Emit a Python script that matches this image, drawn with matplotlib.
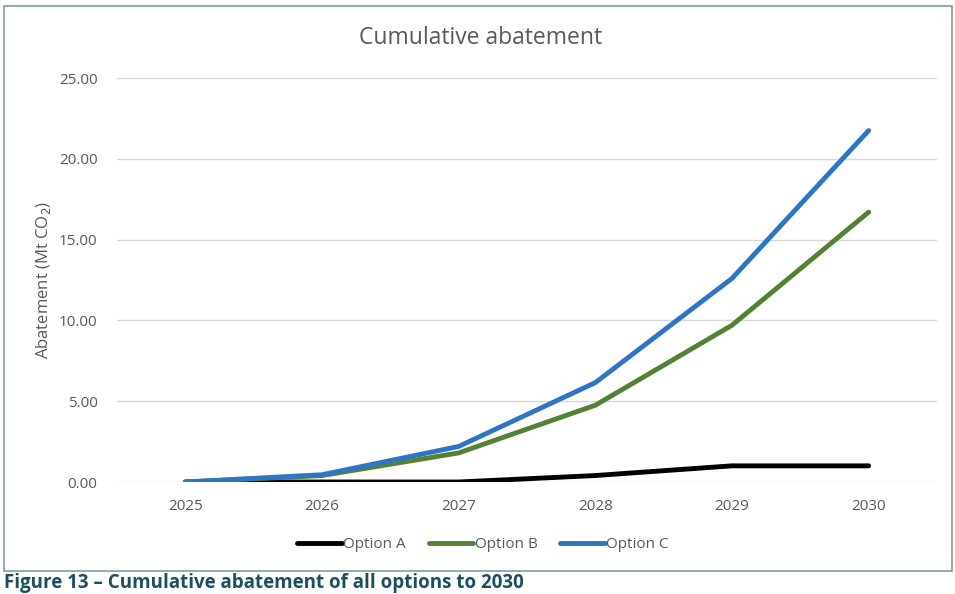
import matplotlib.pyplot as plt
from matplotlib.patches import Rectangle

years = ['2025', '2026', '2027', '2028', '2029', '2030']
option_a = [0.0, 0.0, 0.0, 0.4, 1.0, 1.0]
option_b = [0.0, 0.4, 1.8, 4.75, 9.7, 16.7]
option_c = [0.0, 0.45, 2.2, 6.15, 12.6, 21.75]
y_ticks = [0, 5, 10, 15, 20, 25]

plt.rcParams['font.family'] = ['Open Sans', 'DejaVu Sans']

fig = plt.figure(figsize=(9.55, 5.94), dpi=100)
ax = fig.add_axes([117 / 955, 1 - 482 / 594, 820 / 955, 404 / 594])

# chart frame like an Excel chart area
fig.patches.append(Rectangle((4 / 955, 1 - 571 / 594), 948 / 955, 565 / 594,
                             transform=fig.transFigure, fill=False,
                             edgecolor='#7d9ea3', linewidth=1.2))

x = range(len(years))
ax.plot(x, option_a, color='black', linewidth=3.5, label='Option A', solid_capstyle='round')
ax.plot(x, option_b, color='#548235', linewidth=3.5, label='Option B', solid_capstyle='round')
ax.plot(x, option_c, color='#2E75C6', linewidth=3.5, label='Option C', solid_capstyle='round')

ax.set_xlim(-0.5, len(years) - 0.5)
ax.set_ylim(0, 25)
ax.set_xticks(list(x))
ax.set_xticklabels(years)
ax.set_yticks(y_ticks)
ax.set_yticklabels([f'{v:.2f}' for v in y_ticks])
ax.grid(axis='y', color='#d9d9d9', linewidth=1)
ax.set_axisbelow(True)
for s in ax.spines.values():
    s.set_visible(False)
ax.tick_params(length=0, labelsize=11, labelcolor='#595959')
ax.tick_params(axis='y', pad=14)
ax.tick_params(axis='x', pad=12)
ax.set_ylabel('Abatement (Mt CO$_2$)', fontsize=12, color='#595959', labelpad=4)

fig.text(481 / 955, 1 - 38 / 594, 'Cumulative abatement', ha='center', va='center',
         fontsize=16.5, color='#595959')

fig.legend(*ax.get_legend_handles_labels(), loc='center',
           bbox_to_anchor=(483 / 955, 1 - 545 / 594), ncol=3,
           frameon=False, fontsize=11, labelcolor='#595959', handlelength=2.9,
           handletextpad=0.1, columnspacing=1.5)

fig.text(4 / 955, 1 / 594, 'Figure 13 – Cumulative abatement of all options to 2030',
         ha='left', va='bottom', fontsize=13.5, fontweight='bold', color='#1f4e5f')

fig.savefig('out.png', dpi=100)
